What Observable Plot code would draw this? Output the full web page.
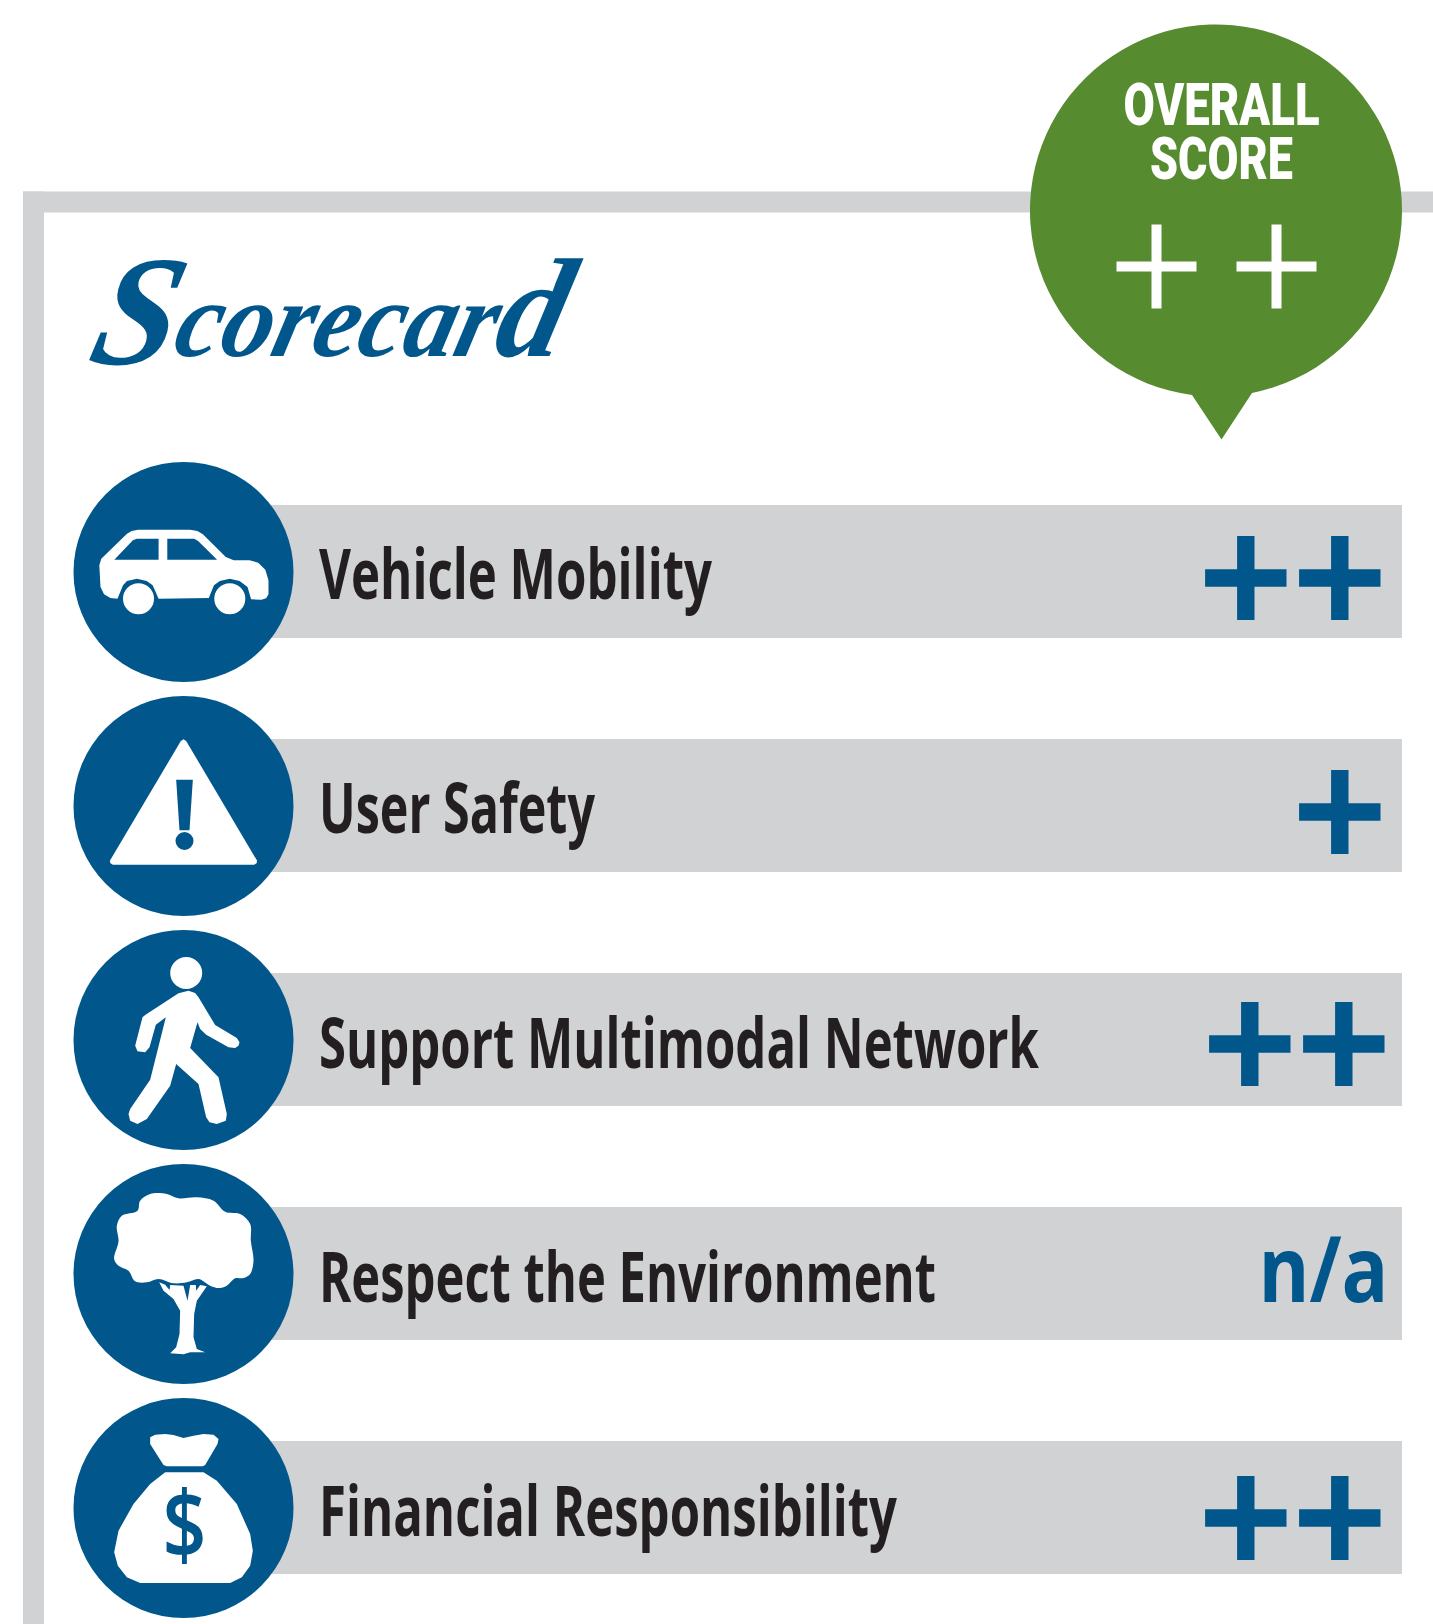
<!DOCTYPE html>
<html>
<head>
<meta charset="utf-8">
<script src="https://cdn.jsdelivr.net/npm/d3@7"></script>
<script src="https://cdn.jsdelivr.net/npm/@observablehq/plot@0.6"></script>
<style>html,body{margin:0;padding:0;background:#fff}svg{display:block}</style>
</head>
<body>
<div id="chart"></div>
<script>
// ---- chart content ----
const categories = ["Vehicle Mobility", "User Safety", "Support Multimodal Network", "Respect the Environment", "Financial Responsibility"];
const scores = [2, 1, 2, null, 2];       // number of plus signs
const missingLabel = "n/a";
const overallScore = 2;
const chartTitle = "Scorecard";
const overallLines = ["OVERALL", "SCORE"];

// ---- colours ----
const BLUE = "#01578c", GREY = "#d0d2d4", GREEN = "#568b30", INK = "#231f20";

// ---- layout ----
const W = 1433, H = 1624;
const circleX = 183, circleR = 110, barEnd = 1402;
const bubbleX = 1215.5, bubbleDy = 19;          // below the frame top
const plusX = 1339.3, plusStep = 94;
const nudgeX = [0, 0, 4, 0, 0], nudgeY = [6, 6, 4, 0, 10];
const fitWidths = {
  "Vehicle Mobility": 393, "User Safety": 276, "Support Multimodal Network": 720,
  "Respect the Environment": 617, "Financial Responsibility": 578,
  "OVERALL": 196, "SCORE": 143, "Scorecard": 470, "n/a": 130, "$": 44
};

// ---- glyph shapes (drawn around a mark's own centre) ----
const shape = fn => ({draw(ctx) { fn(ctx); }});
const traced = (pts, ox, oy, sx, sy, curve) => ctx =>
  d3.line().curve(curve).context(ctx)(pts.map(([a, b]) => [(a - ox) / sx, (b - oy) / sy]));
const LIN = d3.curveLinearClosed, ROUND = d3.curveCatmullRomClosed;

const carBody = shape(traced([[255,1165],[320,1090],[332,1082],[348,1078],[480,1078],[498,1082],[512,1092],[570,1160],[590,1170],[630,1170],[652,1177],[670,1198],[678,1230],[678,1272],[672,1284],[660,1288],[634,1287],[625,1250],[605,1232],[580,1225],[555,1232],[540,1245],[527,1283],[400,1285],[385,1245],[370,1232],[345,1225],[320,1232],[310,1245],[296,1285],[278,1283],[262,1272],[253,1250],[250,1185]], 463, 1205, 2.53, 3, LIN));
const carWindows = shape(ctx => {
  traced([[288,1168],[335,1110],[345,1105],[400,1105],[400,1168]], 463, 1205, 2.53, 3, LIN)(ctx);
  traced([[422,1105],[490,1105],[500,1112],[548,1168],[422,1168]], 463, 1205, 2.53, 3, LIN)(ctx);
});
const carWheels = shape(ctx => {
  for (const cx of [-45, 46.3]) { ctx.moveTo(cx + 15.5, 26.7); ctx.arc(cx, 26.7, 15.5, 0, 2 * Math.PI); }
});
const triangle = shape(traced([[392,182],[400,177],[408,182],[620,540],[620,548],[612,553],[188,553],[180,548],[180,540]], 400, 377, 3, 3, LIN));
const bang = shape(ctx => {
  traced([[378,298],[428,298],[418,450],[388,450]], 400, 377, 3, 3, LIN)(ctx);
  ctx.moveTo(10, 35); ctx.arc(1, 35, 9, 0, 2 * Math.PI);
});
const walker = shape(ctx => {
  ctx.moveTo(18.7, -67); ctx.arc(2.7, -67, 16, 0, 2 * Math.PI);
  traced([[385,938],[415,930],[435,937],[445,950],[495,1033],[560,1072],[568,1085],[565,1095],[555,1102],[535,1100],[468,1062],[450,1045],[442,1025],[420,1102],[505,1190],[530,1300],[527,1320],[500,1330],[478,1325],[468,1310],[445,1210],[378,1150],[360,1215],[290,1315],[262,1330],[240,1320],[235,1300],[240,1285],[300,1197],[347,1010],[317,1032],[298,1100],[285,1115],[262,1112],[255,1095],[277,1010],[285,1003]], 400, 1078, 3, 3, LIN)(ctx);
});
const tree = shape(ctx => {
  traced([[262,180],[270,150],[300,130],[350,130],[385,143],[440,140],[490,150],[525,183],[570,190],[600,220],[602,270],[610,330],[600,370],[580,382],[555,383],[530,405],[505,412],[480,405],[445,385],[410,395],[370,398],[325,385],[290,395],[255,392],[235,360],[205,345],[192,325],[205,272],[200,225],[215,195]], 400, 370, 3, 3, ROUND)(ctx);
  traced([[327,395],[345,402],[358,418],[360,403],[400,405],[412,450],[420,403],[437,403],[438,420],[450,403],[470,407],[440,450],[432,490],[430,560],[440,595],[465,605],[420,605],[400,611],[360,608],[378,590],[388,550],[390,480],[370,445],[340,420]], 400, 370, 3, 3, LIN)(ctx);
});
const bag = shape(ctx => {
  traced([[300,860],[315,852],[345,850],[370,853],[400,862],[430,855],[460,850],[490,852],[505,865],[502,880],[465,943],[458,947],[350,947],[340,943],[300,880]], 400, 1072, 3, 3, LIN)(ctx);
  traced([[345,965],[460,965],[500,990],[560,1060],[600,1150],[608,1200],[600,1245],[575,1280],[540,1297],[270,1297],[230,1280],[203,1245],[192,1205],[205,1140],[250,1060],[300,1000]], 400, 1072, 3, 3, LIN)(ctx);
});
const plusShape = (armX, armY, half) => shape(ctx => {
  ctx.moveTo(-half, -armY); ctx.lineTo(half, -armY); ctx.lineTo(half, -half); ctx.lineTo(armX, -half); ctx.lineTo(armX, half);
  ctx.lineTo(half, half); ctx.lineTo(half, armY); ctx.lineTo(-half, armY); ctx.lineTo(-half, half); ctx.lineTo(-armX, half);
  ctx.lineTo(-armX, -half); ctx.lineTo(-half, -half); ctx.closePath();
});
const balloon = shape(ctx => {
  const r = 186;
  ctx.moveTo(-24, 184.4);
  ctx.arc(0, 0, r, Math.atan2(184.4, -24), Math.atan2(182.5, 36) + 2 * Math.PI);
  ctx.lineTo(5.5, 229);
  ctx.closePath();
});

// ---- derived tables ----
const rows = categories.map((name, i) => ({name, score: scores[i], i}));
const plusses = rows.flatMap(r => d3.range(r.score ?? 0).map(k => ({name: r.name, row: r.i, k})));
const xAt = v => () => v;

const iconMark = (name, symbol, fill) => Plot.dot([name], {x: xAt(circleX), y: d => d, r: circleR, symbol, fill});
const headFont = {fill: "#fff", fontFamily: "Roboto", fontWeight: 900, fontSize: 60, textAnchor: "middle", lineAnchor: "bottom"};

const plot = Plot.plot({
  width: W, height: H,
  marginTop: 191, marginLeft: 22.5, marginRight: 0, marginBottom: 0,
  style: {background: "#fff"},
  x: {domain: [22.5, W], axis: null},
  y: {type: "band", domain: categories, range: [404, 1675], padding: 0.4316, round: false, axis: null},
  marks: [
    // frame
    Plot.frame({anchor: "top", stroke: GREY, strokeWidth: 21, dy: 10.5, strokeLinecap: "butt"}),
    Plot.frame({anchor: "left", stroke: GREY, strokeWidth: 21, dx: 10.5, strokeLinecap: "butt"}),
    // overall balloon
    Plot.dot([overallScore], {x: xAt(bubbleX), frameAnchor: "top", dy: bubbleDy, r: 186, symbol: balloon, fill: GREEN}),
    Plot.text([overallLines[0]], {x: xAt(1221), frameAnchor: "top", dy: -67, text: d => d, ...headFont}),
    Plot.text([overallLines[1]], {x: xAt(1221), frameAnchor: "top", dy: -13, text: d => d, ...headFont}),
    Plot.dot(d3.range(overallScore), {x: k => 1156 + k * 120, frameAnchor: "top", dy: 75, r: 40, symbol: plusShape(40, 42, 5), fill: "#fff"}),
    // title
    Plot.text([chartTitle], {x: xAt(87), frameAnchor: "top", lineAnchor: "bottom", dy: 164, text: d => d, textAnchor: "start", fill: BLUE, fontFamily: "Liberation Serif", fontStyle: "italic", fontWeight: 700, fontSize: 110}),
    // rows
    Plot.barX(rows, {y: "name", x1: xAt(circleX), x2: xAt(barEnd), fill: GREY}),
    Plot.dot(rows, {x: xAt(circleX), y: "name", r: circleR, fill: BLUE}),
    iconMark(categories[0], carBody, "#fff"),
    iconMark(categories[0], carWindows, BLUE),
    iconMark(categories[0], carWheels, "#fff"),
    iconMark(categories[1], triangle, "#fff"),
    iconMark(categories[1], bang, BLUE),
    iconMark(categories[2], walker, "#fff"),
    iconMark(categories[3], tree, "#fff"),
    iconMark(categories[4], bag, "#fff"),
    Plot.text(["$"], {x: xAt(circleX + 1), y: () => categories[4], dy: 20.5, text: d => d, fill: BLUE, fontFamily: "Open Sans", fontWeight: 600, fontSize: 94}),
    // labels
    Plot.text(rows, {x: xAt(318.5), y: "name", text: "name", dy: 27.5, lineAnchor: "bottom", textAnchor: "start", fill: INK, fontFamily: "Open Sans", fontWeight: 700, fontSize: 70}),
    // scores
    ...rows.filter(r => r.score).map(r =>
      Plot.dot(plusses.filter(p => p.row === r.i), {x: p => plusX + nudgeX[r.i] - p.k * plusStep, y: "name", dy: nudgeY[r.i], r: 41, symbol: plusShape(40.7, 42, 8.7), fill: BLUE})),
    ...rows.filter(r => !r.score).map(r =>
      Plot.text([r], {x: xAt(1388), y: "name", text: () => missingLabel, dy: 28, lineAnchor: "bottom", textAnchor: "end", fill: BLUE, fontFamily: "Open Sans", fontWeight: 700, fontSize: 92}))
  ]
});

// condense the lettering to the reference's widths
plot.querySelectorAll("text").forEach(t => {
  const content = t.textContent;
  const w = fitWidths[content];
  if (content === chartTitle) {
    // brush-script proportions: tall first and last letters on a small x-height, slanted
    t.textContent = "";
    const parts = [[content[0], 157, 8], [content.slice(1, -1), 108, -8], [content.slice(-1), 141, 0]];
    for (const [s, size, shift] of parts) {
      const span = document.createElementNS("http://www.w3.org/2000/svg", "tspan");
      span.textContent = s;
      span.setAttribute("font-size", size);
      span.setAttribute("dy", shift);
      t.append(span);
    }
    t.setAttribute("transform", (t.getAttribute("transform") || "") + " skewX(-14)");
  }
  if (w) { t.setAttribute("textLength", w); t.setAttribute("lengthAdjust", "spacingAndGlyphs"); }
});
document.getElementById("chart").append(plot);
</script>
</body>
</html>
